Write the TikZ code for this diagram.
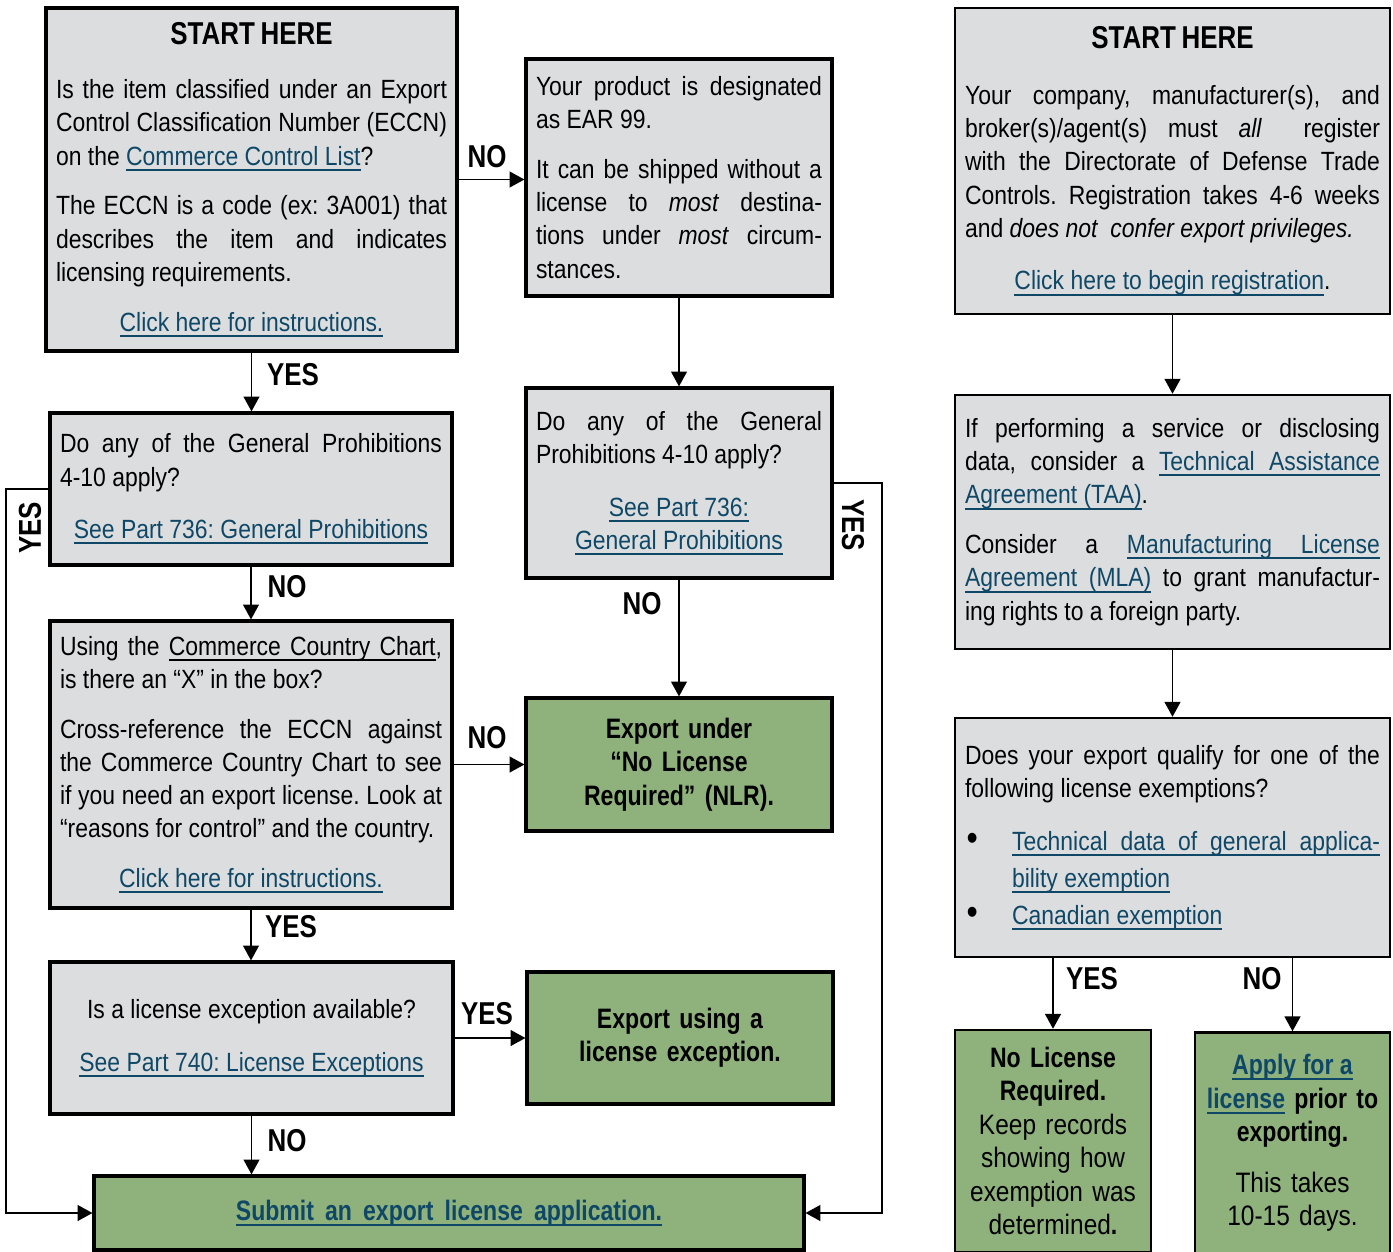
\documentclass[tikz,border=0pt]{standalone}
\usepackage{fontspec}
\setmainfont{Liberation Sans}[FakeStretch=0.87,BoldFeatures={FakeStretch=0.82,WordSpace=0.8},BoldItalicFeatures={FakeStretch=0.82}]
\usetikzlibrary{arrows.meta}
\definecolor{boxgray}{RGB}{220,221,223}
\definecolor{boxgreen}{RGB}{143,178,125}
\definecolor{linkblue}{RGB}{15,72,102}
\setlength{\parindent}{0pt}
\hyphenpenalty=10000
\frenchspacing
\newcommand{\bodyfont}{\fontsize{15}{18.9}\selectfont}
\newcommand{\headfont}{\fontsize{18}{20}\selectfont\bfseries}
\newcommand{\greenfont}{\fontsize{16}{19}\selectfont\bfseries}
% underlined words, with stretchable underlined spaces
\newcommand{\ulword}[1]{\leavevmode\setbox0\hbox{#1}\rlap{\rule[-3.2pt]{\wd0}{1.1pt}}\box0}
\newcommand{\ulsp}{\leaders\hrule height -2.1pt depth 3.2pt\hskip\fontdimen2\font plus\fontdimen3\font minus\fontdimen4\font\relax}
\def\ulwords#1 #2\relax{\ulword{#1}\ifx\relax#2\relax\else\ulsp\ulwords#2\relax\fi}
\newcommand{\undl}[1]{\ulwords#1 \relax}
\newcommand{\lnk}[1]{\textcolor{linkblue}{\ulwords#1 \relax}}
\newcommand{\pgap}{\par\vspace{9.4pt}}
\newcommand{\bul}{\makebox[0.94cm][l]{\hspace{0.03cm}\scalebox{1.4}{•}}}
\tikzset{
  qbox/.style={draw,line width=1.8pt,fill=boxgray,inner sep=0.1cm,align=justify,font=\bodyfont},
  rbox/.style={qbox,line width=1.4pt},
  gbox/.style={draw,line width=1.8pt,fill=boxgreen,inner sep=0.1cm,align=center,font=\greenfont},
  lbl/.style={font=\headfont},
  arr/.style={line width=1.1pt,-{Triangle[length=8.5pt,width=9pt]}}
}
\begin{document}
\begin{tikzpicture}[x=0.02cm,y=-0.02cm]
\useasboundingbox (0,0) rectangle (1393,1251);
%left column
\node[qbox,text width=7.82cm,minimum width=8.22cm,minimum height=6.86cm](start) at (251.5,179.5){%
{\centering\headfont START HERE\par}\vspace{12pt}
Is the item classified under an Export\linebreak
Control Classification Number (ECCN)\linebreak
on the \lnk{Commerce Control List}?\pgap
The ECCN is a code (ex: 3A001) that\linebreak
describes the item and indicates\linebreak
licensing requirements.\pgap
{\centering\lnk{Click here for instructions.}\par}};
\node[qbox,text width=7.64cm,minimum width=8.04cm,minimum height=3.04cm](gpl) at (251,489){%
Do any of the General Prohibitions\linebreak
4-10 apply?\par\vspace{11pt}
{\centering\lnk{See Part 736: General Prohibitions}\par}};
\node[qbox,text width=7.64cm,minimum width=8.04cm,minimum height=5.74cm](chart) at (251,764.5){%
Using the \undl{Commerce Country Chart},\linebreak
is there an “X” in the box?\pgap
Cross-reference the ECCN against\linebreak
the Commerce Country Chart to see\linebreak
if you need an export license. Look at\linebreak
“reasons for control” and the country.\pgap
{\centering\lnk{Click here for instructions.}\par}};
\node[qbox,text width=7.66cm,minimum width=8.06cm,minimum height=3.04cm](excq) at (251.5,1038){%
{\centering Is a license exception available?\par\vspace{11pt}
\lnk{See Part 740: License Exceptions}\par}};
%middle column
\node[qbox,text width=5.72cm,minimum width=6.12cm,minimum height=4.74cm](ear) at (679,177.5){%
Your product is designated\linebreak
as EAR 99.\pgap
It can be shipped without a\linebreak
license to \emph{most} destina-\linebreak
tions under \emph{most} circum-\linebreak
stances.};
\node[qbox,text width=5.72cm,minimum width=6.12cm,minimum height=3.8cm](gpr) at (679,483){%
Do any of the General\linebreak
Prohibitions 4-10 apply?\par\vspace{11pt}
{\centering\lnk{See Part 736:}\\\lnk{General Prohibitions}\par}};
\node[gbox,text width=5.72cm,minimum width=6.12cm,minimum height=2.66cm](nlr) at (679,764.5){%
Export under\\“No License\\Required” (NLR).};
\node[gbox,text width=5.72cm,minimum width=6.12cm,minimum height=2.64cm](useexc) at (680,1038){%
Export using a\\license exception.};
\node[gbox,text width=13.8cm,minimum width=14.2cm,minimum height=1.48cm](submit) at (449,1213){%
\lnk{Submit an export license application.}};
%right column
\node[rbox,text width=8.3cm,minimum width=8.7cm,minimum height=6.12cm](start2) at (1172.5,161){%
{\centering\headfont START HERE\par}\vspace{13pt}
Your company, manufacturer(s), and\linebreak
broker(s)/agent(s) must \emph{all}\ \ register\linebreak
with the Directorate of Defense Trade\linebreak
Controls. Registration takes 4-6 weeks\linebreak
and \emph{does not\ \ confer export privileges.}\par\vspace{11pt}
{\centering\lnk{Click here to begin registration}.\par}};
\node[rbox,text width=8.3cm,minimum width=8.7cm,minimum height=5.08cm](taa) at (1172.5,522){%
If performing a service or disclosing\linebreak
data, consider a \lnk{Technical Assistance}\linebreak
\lnk{Agreement (TAA)}.\pgap
Consider a \lnk{Manufacturing License}\linebreak
\lnk{Agreement (MLA)} to grant manufactur-\linebreak
ing rights to a foreign party.};
\node[rbox,text width=8.3cm,minimum width=8.7cm,minimum height=4.78cm](exempt) at (1172.5,837.5){%
Does your export qualify for one of the\linebreak
following license exemptions?\par\vspace{9pt}
{\baselineskip=21pt\hangindent=0.94cm\bul\lnk{Technical data of general applica-}\linebreak
\lnk{bility exemption}\par
\hangindent=0.94cm\bul\lnk{Canadian exemption}\par}};
\node[gbox,line width=1.4pt,text width=3.6cm,minimum width=3.92cm,minimum height=4.44cm](nolic) at (1053,1141){%
No License\\Required.\\{\mdseries Keep records\\showing how\\exemption was\\determined}.};
\node[gbox,line width=1.4pt,text width=3.6cm,minimum width=3.9cm,minimum height=4.42cm](apply) at (1292.5,1143){%
\lnk{Apply for a}\\\lnk{license} prior to\\exporting.\\[10pt]{\mdseries This takes\\10-15 days.}};
%connectors
\draw[arr](start.east)--(start.east-|ear.west);
\draw[arr](start.south)--(start.south|-gpl.north);
\draw[arr](ear.south)--(gpr.north);
\draw[arr](gpl.south)--(gpl.south|-chart.north);
\draw[arr](gpr.south)--(nlr.north);
\draw[arr](chart.east)--(nlr.west);
\draw[arr](chart.south)--(chart.south|-excq.north);
\draw[arr](excq.east)--(useexc.west);
\draw[arr](excq.south)--(excq.south|-submit.north);
\draw[arr](gpl.west)--++(-42,0)|-(submit.west);
\draw[arr](gpr.east)--++(48,0)|-(submit.east);
\draw[arr](start2.south)--(taa.north);
\draw[arr](taa.south)--(exempt.north);
\draw[arr](exempt.south-|nolic.north)--(nolic.north);
\draw[arr](exempt.south-|apply.north)--(apply.north);
%labels
\node[lbl]at(487,157){NO};
\node[lbl]at(293,375){YES};
\node[lbl]at(287,587){NO};
\node[lbl]at(642,604){NO};
\node[lbl]at(487,738){NO};
\node[lbl]at(291,927){YES};
\node[lbl]at(487,1014){YES};
\node[lbl]at(287,1141){NO};
\node[lbl,rotate=90]at(30,528){YES};
\node[lbl,rotate=-90]at(853,525){YES};
\node[lbl]at(1092,979){YES};
\node[lbl]at(1262,979){NO};
\end{tikzpicture}
\end{document}
